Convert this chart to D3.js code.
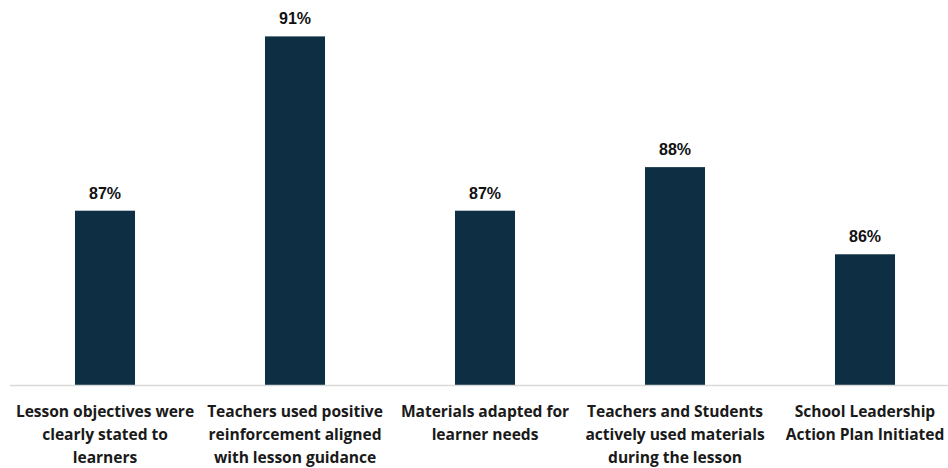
<!DOCTYPE html>
<html>
<head>
<meta charset="utf-8">
<script src="https://cdn.jsdelivr.net/npm/d3@7"></script>
<style>
  html, body { margin: 0; padding: 0; background: #ffffff; }
  svg { display: block; }
</style>
</head>
<body>
<svg id="chart" width="948" height="468"></svg>
<script>
// Share of observations meeting each indicator (%)
const categories = [
  "Lesson objectives were clearly stated to learners",
  "Teachers used positive reinforcement aligned with lesson guidance",
  "Materials adapted for learner needs",
  "Teachers and Students actively used materials during the lesson",
  "School Leadership Action Plan Initiated"
];
const values = [87, 91, 87, 88, 86];
// Wrapped axis labels, one entry per category
const tickLines = [
  ["Lesson objectives were", "clearly stated to", "learners"],
  ["Teachers used positive", "reinforcement aligned", "with lesson guidance"],
  ["Materials adapted for", "learner needs"],
  ["Teachers and Students", "actively used materials", "during the lesson"],
  ["School Leadership", "Action Plan Initiated"]
];

const svg = d3.select("#chart");
const baseY = 385;

const x = d3.scaleBand()
  .domain(categories)
  .range([10, 960])
  .paddingInner(0.684)
  .paddingOuter(0.342);

const y = d3.scaleLinear()
  .domain([83, 91])
  .range([baseY, 36.4]);

// Bars
svg.append("g")
  .selectAll("rect")
  .data(values)
  .join("rect")
  .attr("x", (d, i) => x(categories[i]))
  .attr("y", d => y(d))
  .attr("width", x.bandwidth())
  .attr("height", d => baseY - y(d))
  .attr("fill", "#0e2f43");

// Baseline
svg.append("line")
  .attr("x1", 10).attr("x2", 948)
  .attr("y1", baseY + 0.5).attr("y2", baseY + 0.5)
  .attr("stroke", "#d9d9d9")
  .attr("stroke-width", 1.5);

// Value labels
svg.append("g")
  .selectAll("text")
  .data(values)
  .join("text")
  .attr("x", (d, i) => x(categories[i]) + x.bandwidth() / 2)
  .attr("y", d => y(d) - 12)
  .attr("text-anchor", "middle")
  .attr("font-family", "'Liberation Sans', Arial, sans-serif")
  .attr("font-weight", "bold")
  .attr("font-size", "16px")
  .attr("fill", "#111111")
  .text(d => d + "%");

// Category labels
const xAxis = svg.append("g");
categories.forEach((c, i) => {
  const t = xAxis.append("text")
    .attr("x", x(c) + x.bandwidth() / 2)
    .attr("y", 416.5)
    .attr("text-anchor", "middle")
    .attr("font-family", "'Open Sans', sans-serif")
    .attr("font-weight", "bold")
    .attr("font-size", "15.6px")
    .attr("letter-spacing", "-0.05px")
    .attr("fill", "#1a1a1a");
  tickLines[i].forEach((line, j) => {
    t.append("tspan")
      .attr("x", x(c) + x.bandwidth() / 2)
      .attr("dy", j === 0 ? 0 : 23.2)
      .text(line);
  });
});
</script>
</body>
</html>
